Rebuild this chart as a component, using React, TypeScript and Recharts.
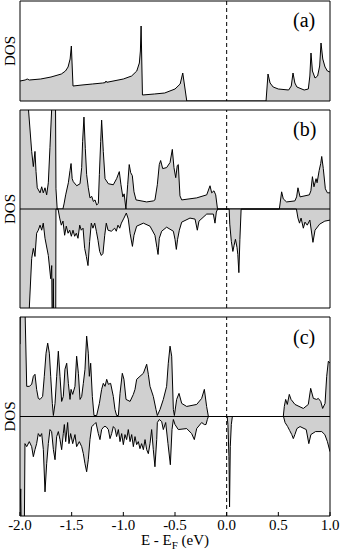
import { Area, AreaChart, ReferenceArea, ReferenceLine, XAxis, YAxis } from "recharts";

const serif = "'Liberation Serif', 'Times New Roman', serif";
const grey = "#d0d0d0";

const energyTicks = [-2, -1.5, -1, -0.5, 0, 0.5, 1];

// (a) non-magnetic DOS
const energyA = [-2.0, -1.95, -1.93, -1.91, -1.8, -1.7, -1.6, -1.56, -1.535, -1.515, -1.503, -1.487, -1.4, -1.3, -1.2, -1.175, -1.168, -1.16, -1.0, -0.92, -0.87, -0.845, -0.835, -0.828, -0.815, -0.7, -0.6, -0.5, -0.45, -0.425, -0.386, 0.381, 0.4, 0.42, 0.45, 0.5, 0.6, 0.625, 0.642, 0.66, 0.68, 0.75, 0.79, 0.805, 0.816, 0.83, 0.855, 0.88, 0.9, 0.913, 0.93, 0.952, 0.975, 1.0];
const dosA = [20, 21, 22, 21, 22, 24, 27, 30, 34, 42, 55, 15, 16, 17, 18, 18.4, 20, 18.7, 22, 25, 30, 38, 50, 75, 6, 7, 8, 12, 17, 28, 0, 0, 27, 18, 14, 12, 11, 15, 28, 18, 14, 11, 12, 25, 48, 30, 23, 25, 35, 58, 42, 34, 30, 29];

// (b) spin up / spin down
const energyBUp = [-2.0, -1.925, -1.919, -1.887, -1.871, -1.855, -1.845, -1.833, -1.806, -1.79, -1.775, -1.758, -1.742, -1.726, -1.71, -1.693, -1.685, -1.658, -1.652, -1.64, -1.585, -1.574, -1.558, -1.532, -1.516, -1.506, -1.495, -1.484, -1.451, -1.419, -1.403, -1.394, -1.381, -1.368, -1.355, -1.339, -1.323, -1.306, -1.29, -1.274, -1.258, -1.242, -1.232, -1.219, -1.21, -1.194, -1.177, -1.145, -1.097, -1.065, -1.039, -1.023, -1.005, -0.992, -0.975, -0.958, -0.943, -0.929, -0.913, -0.897, -0.877, -0.774, -0.71, -0.694, -0.671, -0.652, -0.639, -0.619, -0.581, -0.548, -0.526, -0.51, -0.493, -0.478, -0.468, -0.452, -0.435, -0.29, -0.193, -0.161, -0.145, -0.123, -0.106, -0.09, -0.085, 0.51, 0.532, 0.548, 0.58, 0.66, 0.677, 0.69, 0.71, 0.8, 0.815, 0.83, 0.845, 0.865, 0.875, 0.895, 0.91, 0.92, 0.935, 0.955, 0.975, 1.0];
const dosBUp = [140, 140, 100, 57, 42, 57, 37, 21, 16, 22, 16, 21, 14, 26, 61, 100, 140, 140, 20, 0, 0, 5, 14, 26, 38, 45, 30, 27, 23, 25, 41, 67, 91, 60, 34, 21, 11, 12.5, 7.5, 9, 4, 5.5, 34, 67, 88, 57, 30, 25, 24, 30, 37, 24, 12, 15, 0, 24, 44, 36, 33, 17, 9, 7, 8, 9, 24, 44, 48, 40, 41, 46, 59, 41, 31, 43, 44, 13, 9, 11, 14, 23, 16, 18, 14, 1, 0, 0, 17, 10, 7, 8, 12, 21, 12, 14, 18, 32, 22, 30, 26, 38, 45, 52, 40, 20, 16, 16];
const energyBDown = [-2.0, -1.915, -1.91, -1.887, -1.871, -1.855, -1.839, -1.823, -1.806, -1.79, -1.775, -1.758, -1.726, -1.703, -1.693, -1.687, -1.678, -1.67, -1.655, -1.652, -1.632, -1.616, -1.6, -1.584, -1.568, -1.552, -1.535, -1.519, -1.503, -1.487, -1.471, -1.455, -1.439, -1.422, -1.407, -1.39, -1.374, -1.358, -1.342, -1.326, -1.31, -1.294, -1.277, -1.261, -1.245, -1.229, -1.213, -1.197, -1.18, -1.165, -1.148, -1.116, -1.084, -1.068, -1.052, -1.035, -1.019, -0.994, -0.971, -0.952, -0.935, -0.912, -0.897, -0.871, -0.806, -0.742, -0.694, -0.675, -0.664, -0.652, -0.629, -0.581, -0.516, -0.5, -0.487, -0.475, -0.458, -0.435, -0.355, -0.306, -0.284, -0.268, -0.193, -0.129, -0.113, -0.1, -0.087, 0.024, 0.03, 0.045, 0.06, 0.072, 0.085, 0.1, 0.108, 0.118, 0.128, 0.14, 0.675, 0.69, 0.705, 0.72, 0.742, 0.758, 0.78, 0.805, 0.835, 0.855, 0.9, 0.95, 1.0];
const dosBDown = [-140, -140, -98, -49, -39, -47, -24, -21, -16, -21, -14, -29, -46, -69, -56, -140, -69, -140, -140, 0, 0, -9, -16, -12, -26, -17, -24, -21, -27, -21, -27, -24, -29, -16, -21, -19, -39, -47, -56, -32, -14, -19, -14, -22, -31, -42, -46, -44, -26, -14, -21, -22, -19, -22, -16, -19, -14, -9, -4, -10, -24, -37, -26, -17, -14, -17, -26, -38, -45, -29, -22, -18, -22, -30, -40, -30, -21, -13, -9, -10, -21, -12, -5, -5, -14, -3, 0, 0, -15, -32, -42, -36, -30, -38, -45, -63, -30, 0, 0, -9, -14, -9, -19, -13, -16, -11, -33, -21, -15, -12, -11];

// (c) spin up / spin down
const energyCUp = [-2.0, -1.993, -1.96, -1.95, -1.935, -1.91, -1.887, -1.871, -1.855, -1.839, -1.823, -1.806, -1.781, -1.765, -1.748, -1.732, -1.716, -1.703, -1.687, -1.677, -1.661, -1.645, -1.629, -1.613, -1.597, -1.581, -1.565, -1.548, -1.532, -1.516, -1.506, -1.49, -1.468, -1.452, -1.435, -1.419, -1.403, -1.387, -1.371, -1.355, -1.339, -1.329, -1.316, -1.3, -1.284, -1.258, -1.232, -1.21, -1.194, -1.177, -1.161, -1.145, -1.123, -1.097, -1.081, -1.065, -1.048, -1.032, -1.01, -0.994, -0.974, -0.935, -0.903, -0.887, -0.871, -0.839, -0.806, -0.774, -0.758, -0.742, -0.71, -0.684, -0.671, -0.645, -0.613, -0.581, -0.565, -0.548, -0.532, -0.516, -0.506, -0.484, -0.461, -0.435, -0.387, -0.29, -0.242, -0.216, -0.194, -0.177, 0.548, 0.558, 0.571, 0.587, 0.606, 0.623, 0.661, 0.742, 0.79, 0.813, 0.839, 0.871, 0.887, 0.91, 0.929, 0.952, 0.968, 0.984, 1.0];
const dosCUp = [72, 140, 140, 100, 30, 30, 32, 40, 42, 27, 18, 17, 20, 40, 63, 73, 63, 40, 13, 1, 13, 40, 65, 40, 15, 20, 47, 53, 33, 17, 27, 22, 30, 60, 43, 17, 20, 33, 47, 80, 63, 40, 53, 20, 1, 1, 13, 27, 33, 30, 37, 32, 33, 20, 7, 1, 1, 23, 43, 37, 17, 15, 22, 27, 37, 40, 43, 52, 42, 30, 20, 7, 1, 7, 17, 30, 53, 70, 60, 7, 1, 17, 23, 13, 10, 12, 18, 27, 10, 0, 0, 10, 17, 12, 22, 17, 12, 8, 12, 28, 18, 17, 18, 15, 8, 13, 40, 55, 53];
const energyCDown = [-2.0, -1.993, -1.985, -1.96, -1.952, -1.935, -1.91, -1.887, -1.871, -1.855, -1.839, -1.823, -1.806, -1.79, -1.774, -1.758, -1.742, -1.726, -1.71, -1.694, -1.677, -1.661, -1.645, -1.629, -1.613, -1.597, -1.581, -1.571, -1.558, -1.539, -1.526, -1.51, -1.49, -1.468, -1.452, -1.426, -1.403, -1.387, -1.371, -1.355, -1.339, -1.323, -1.306, -1.284, -1.265, -1.242, -1.226, -1.21, -1.187, -1.168, -1.145, -1.129, -1.113, -1.097, -1.081, -1.065, -1.048, -1.032, -1.016, -1.0, -0.984, -0.968, -0.952, -0.935, -0.919, -0.903, -0.887, -0.871, -0.855, -0.839, -0.823, -0.806, -0.79, -0.774, -0.758, -0.742, -0.726, -0.71, -0.694, -0.677, -0.671, -0.652, -0.629, -0.613, -0.59, -0.568, -0.545, -0.529, -0.516, -0.5, -0.468, -0.387, -0.339, -0.313, -0.29, -0.242, -0.216, -0.2, -0.187, -0.177, 0.005, 0.012, 0.022, 0.028, 0.035, 0.045, 0.055, 0.55, 0.565, 0.59, 0.61, 0.63, 0.645, 0.66, 0.68, 0.71, 0.77, 0.795, 0.815, 0.86, 0.92, 0.95, 0.975, 1.0];
const dosCDown = [-98, -72, -140, -140, -27, -30, -25, -30, -40, -33, -27, -17, -20, -17, -33, -75, -47, -27, -13, -15, -33, -43, -20, -15, -23, -33, -17, -8, -25, -6, -27, -17, -27, -18, -30, -25, -30, -37, -47, -55, -43, -23, -10, -8, -6, -17, -23, -13, -10, -10, -13, -22, -17, -10, -12, -20, -13, -25, -17, -28, -18, -23, -13, -25, -18, -30, -20, -28, -25, -32, -27, -33, -23, -33, -37, -27, -13, -33, -50, -23, -6, -3, -5, -13, -6, -27, -48, -13, -3, -8, -13, -12, -17, -23, -12, -6, -8, -8, -3, 0, 0, -8, -40, -90, -30, -8, 0, 0, -6, -10, -14, -18, -22, -18, -12, -10, -13, -27, -18, -15, -15, -18, -25, -35];

const toPoints = (energy: number[], dos: number[]) => energy.map((e, i) => ({ e, dos: dos[i] }));

type Series = { key: string; points: { e: number; dos: number }[] };

type PanelProps = {
  top: number;
  height: number;
  domain: [number, number];
  series: Series[];
  tag: string;
  tagTop: number;
  axis: "top" | "none" | "bottom";
  zeroLine?: boolean;
};

const Panel = ({ top, height, domain, series, tag, tagTop, axis, zeroLine }: PanelProps) => (
  <>
    <div style={{ position: "absolute", left: 0, top, width: 341, height }}>
      <AreaChart width={341} height={height} margin={{ top: 1, right: 11, bottom: axis === "bottom" ? 0 : 1, left: 0 }}>
        {axis === "top" && (
          <XAxis
            type="number"
            dataKey="e"
            domain={[-2, 1]}
            allowDataOverflow
            ticks={energyTicks}
            orientation="top"
            height={0}
            tick={false}
            tickSize={-4}
            tickLine={{ stroke: "#000" }}
            axisLine={false}
          />
        )}
        {axis === "none" && <XAxis type="number" dataKey="e" domain={[-2, 1]} allowDataOverflow hide />}
        {axis === "bottom" && (
          <XAxis
            type="number"
            dataKey="e"
            domain={[-2, 1]}
            allowDataOverflow
            ticks={energyTicks}
            height={32}
            tickSize={-4}
            tickMargin={7}
            tickLine={{ stroke: "#000" }}
            axisLine={false}
            tickFormatter={(v: number) => v.toFixed(1)}
            tick={{ fill: "#000", fontSize: 15, fontFamily: serif }}
          />
        )}
        <YAxis
          type="number"
          domain={domain}
          allowDataOverflow
          width={20}
          tick={false}
          tickLine={false}
          axisLine={false}
          label={{ value: "DOS", angle: -90, position: "center", fill: "#000", fontSize: 15, fontFamily: serif }}
        />
        {series.map((s) => (
          <Area
            key={s.key}
            data={s.points}
            dataKey="dos"
            type="linear"
            baseValue={0}
            stroke="#000"
            strokeWidth={1}
            fill={grey}
            fillOpacity={1}
            dot={false}
            activeDot={false}
            isAnimationActive={false}
          />
        ))}
        {zeroLine && <ReferenceLine y={0} stroke="#000" strokeWidth={1} />}
        <ReferenceLine x={0} stroke="#000" strokeWidth={1} strokeDasharray="4 3" />
        <ReferenceArea x1={-2} x2={1} y1={domain[0]} y2={domain[1]} fill="none" fillOpacity={0} stroke="#000" strokeWidth={1} ifOverflow="visible" />
      </AreaChart>
    </div>
    <div style={{ position: "absolute", left: 293, top: tagTop, fontFamily: serif, fontSize: 20, lineHeight: "20px", color: "#000" }}>
      {tag}
    </div>
  </>
);

export default function App() {
  return (
    <div style={{ position: "absolute", left: 0, top: 0, width: 341, height: 560, background: "#fff", overflow: "hidden" }}>
      <Panel top={0} height={102} domain={[0, 100]} series={[{ key: "a", points: toPoints(energyA, dosA) }]} tag="(a)" tagTop={10} axis="top" />
      <Panel
        top={109}
        height={200}
        domain={[-98, 98]}
        series={[
          { key: "bUp", points: toPoints(energyBUp, dosBUp) },
          { key: "bDown", points: toPoints(energyBDown, dosBDown) },
        ]}
        tag="(b)"
        tagTop={119}
        axis="none"
        zeroLine
      />
      <Panel
        top={316}
        height={232}
        domain={[-99, 99]}
        series={[
          { key: "cUp", points: toPoints(energyCUp, dosCUp) },
          { key: "cDown", points: toPoints(energyCDown, dosCDown) },
        ]}
        tag="(c)"
        tagTop={327}
        axis="bottom"
        zeroLine
      />
      <div style={{ position: "absolute", left: 0, width: 350, top: 533, textAlign: "center", fontFamily: serif, fontSize: 15, lineHeight: "15px", color: "#000" }}>
        E - E<sub style={{ fontSize: 11, verticalAlign: "-4px", lineHeight: 0 }}>F</sub> (eV)
      </div>
    </div>
  );
}
